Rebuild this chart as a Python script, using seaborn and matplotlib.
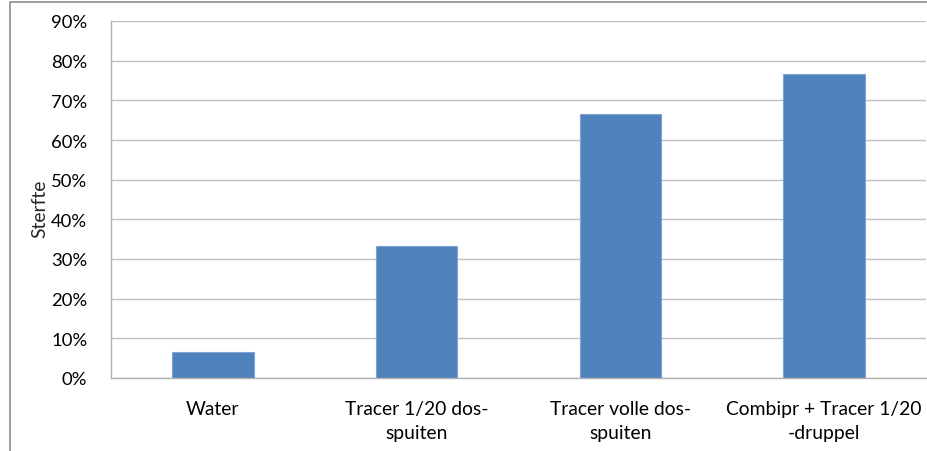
import numpy as np
import pandas as pd
import seaborn as sns
import matplotlib.pyplot as plt
from matplotlib.ticker import PercentFormatter, FixedLocator
from matplotlib.lines import Line2D

# data
categorieen = ["Water", "Tracer 1/20 dos-\nspuiten", "Tracer volle dos-\nspuiten",
               "Combipr + Tracer 1/20\n-druppel"]
sterfte = [0.0667, 0.3333, 0.6667, 0.7667]
y_ticks = [0.0, 0.1, 0.2, 0.3, 0.4, 0.5, 0.6, 0.7, 0.8, 0.9]

df = pd.DataFrame({"categorie": categorieen, "sterfte": sterfte})

sns.set_style("white")
plt.rcParams["font.family"] = ["Lato", "DejaVu Sans"]

fig = plt.figure(figsize=(9.27, 4.52), dpi=100)
ax = fig.add_axes([111 / 927, 1 - 379 / 452, (926 - 111) / 927, (379 - 22) / 452])

sns.barplot(data=df, x="categorie", y="sterfte", color="#4F81BD", width=0.4,
            edgecolor="#7FA3D3", linewidth=0.8, saturation=1, ax=ax)

ax.set_ylim(0, 0.9)
ax.set_xlim(-0.5, len(categorieen) - 0.5)
ax.set_yticks(y_ticks)
ax.yaxis.set_major_formatter(PercentFormatter(1.0, decimals=0))
ax.yaxis.grid(True, color="#C0C0C0", linewidth=1)
ax.set_axisbelow(True)

for s in ["top", "right"]:
    ax.spines[s].set_visible(False)
for s in ["left", "bottom"]:
    ax.spines[s].set_color("#B0B0B0")
    ax.spines[s].set_linewidth(1)

ax.tick_params(axis="y", length=7, width=1, color="#B0B0B0", pad=10, labelsize=13.3,
               labelcolor="#000000")
ax.tick_params(axis="x", which="major", length=0, pad=16, labelsize=13.9,
               labelcolor="#000000")
ax.xaxis.set_minor_locator(FixedLocator(np.arange(-0.5, len(categorieen), 1.0)))
ax.tick_params(axis="x", which="minor", length=6, width=1, color="#B0B0B0")
for lab in ax.get_xticklabels():
    lab.set_linespacing(1.45)

ax.set_xlabel("")
ax.set_ylabel("Sterfte", fontsize=13.9)
ax.yaxis.set_label_coords(-0.077, 0.476)

# outer chart frame (partly cropped)
fig.add_artist(Line2D([10 / 927, 10 / 927, 1.0], [0.0, 1 - 3 / 452, 1 - 3 / 452],
                      transform=fig.transFigure, color="#8C8C8C", linewidth=1.2))

fig.savefig("out.png", dpi=100)
